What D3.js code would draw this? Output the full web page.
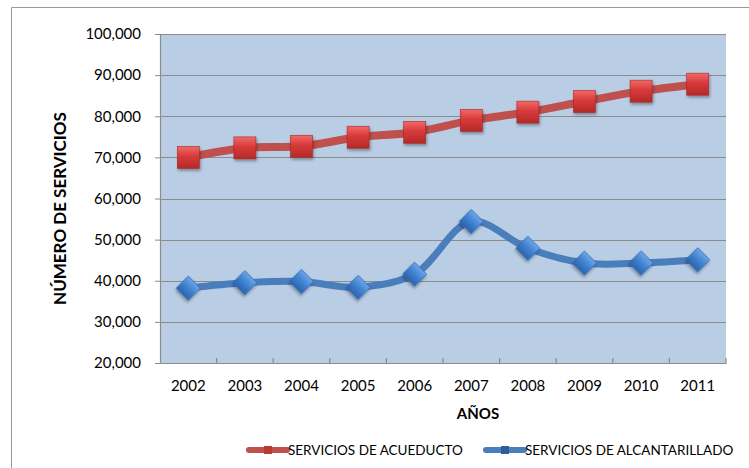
<!DOCTYPE html>
<html lang="es">
<head>
<meta charset="UTF-8">
<title>Servicios de acueducto y alcantarillado</title>
<script src="https://d3js.org/d3.v7.min.js"></script>
<style>
  body { margin: 0; background: #fff; }
  text { font-family: Lato, "Open Sans", sans-serif; fill: #000; }
</style>
</head>
<body>
<svg width="749" height="468"></svg>
<script>
// data
const years = ["2002", "2003", "2004", "2005", "2006", "2007", "2008", "2009", "2010", "2011"];
const acueducto = [70000, 72300, 72700, 74900, 76100, 79000, 81000, 83600, 86100, 87800];
const alcantarillado = [38200, 39500, 39800, 38400, 41600, 54400, 47900, 44300, 44300, 45100];
const yTicks = [20000, 30000, 40000, 50000, 60000, 70000, 80000, 90000, 100000];

const svg = d3.select("svg");
const plotL = 160, plotR = 726, plotT = 34, plotB = 363;

const x = d3.scaleBand().domain(years).range([plotL, plotR]);
const y = d3.scaleLinear().domain([20000, 100000]).range([plotB, plotT]);
const fmt = d3.format(",");

// gradients and shadow
const defs = svg.append("defs");
const gRed = defs.append("linearGradient").attr("id", "gRed").attr("x1", 0).attr("y1", 0).attr("x2", 0).attr("y2", 1);
gRed.append("stop").attr("offset", "0%").attr("stop-color", "#f26a68");
gRed.append("stop").attr("offset", "45%").attr("stop-color", "#d8393a");
gRed.append("stop").attr("offset", "100%").attr("stop-color", "#b42a28");
const gBlue = defs.append("linearGradient").attr("id", "gBlue").attr("x1", 0).attr("y1", 0).attr("x2", 0).attr("y2", 1);
gBlue.append("stop").attr("offset", "0%").attr("stop-color", "#6aa6ea");
gBlue.append("stop").attr("offset", "50%").attr("stop-color", "#3f82d0");
gBlue.append("stop").attr("offset", "100%").attr("stop-color", "#2d63ad");
const shadow = defs.append("filter").attr("id", "shadow").attr("x", "-50%").attr("y", "-50%").attr("width", "200%").attr("height", "200%");
shadow.append("feDropShadow").attr("dx", 1).attr("dy", 2).attr("stdDeviation", 1.5).attr("flood-color", "#000").attr("flood-opacity", 0.35);

// outer frame
svg.append("path").attr("d", "M11.5,468 V7.5 H749").attr("fill", "none").attr("stroke", "#9a9a9a").attr("stroke-width", 1);

// plot area
svg.append("rect").attr("x", plotL).attr("y", plotT).attr("width", plotR - plotL).attr("height", plotB - plotT).attr("fill", "#b9cde5");

// grid lines
svg.append("g").selectAll("line").data(yTicks.slice(1)).join("line")
  .attr("x1", plotL).attr("x2", plotR)
  .attr("y1", d => Math.round(y(d)) + 0.5).attr("y2", d => Math.round(y(d)) + 0.5)
  .attr("stroke", "#8c8c8c").attr("stroke-width", 1.2);

// y axis
const yAxis = svg.append("g").attr("transform", `translate(${plotL},0)`)
  .call(d3.axisLeft(y).tickValues(yTicks).tickFormat(fmt).tickSize(5).tickPadding(14));
yAxis.select(".domain").attr("stroke", "#8c8c8c").attr("stroke-width", 1.2);
yAxis.selectAll(".tick line").attr("stroke", "#8c8c8c");
yAxis.selectAll(".tick text").style("font-size", "15px").style("font-family", "Lato, sans-serif");

// x axis
const xAxis = svg.append("g").attr("transform", `translate(0,${plotB})`)
  .call(d3.axisBottom(x).tickSize(0).tickPadding(17));
xAxis.select(".domain").attr("stroke", "#8c8c8c").attr("stroke-width", 1.2);
xAxis.selectAll(".tick text").style("font-size", "15px").style("font-family", "Lato, sans-serif");
svg.append("g").selectAll("line").data(years).join("line")
  .attr("x1", d => x(d) + x.bandwidth()).attr("x2", d => x(d) + x.bandwidth())
  .attr("y1", plotB - 5).attr("y2", plotB)
  .attr("stroke", "#8c8c8c").attr("stroke-width", 1.2);

// axis titles
svg.append("text").attr("x", 478).attr("y", 419).attr("text-anchor", "middle")
  .style("font-size", "15px").style("font-weight", "bold").text("AÑOS");
svg.append("text").attr("transform", "translate(66,208.5) rotate(-90)").attr("text-anchor", "middle")
  .style("font-size", "17px").style("font-weight", "bold").text("NÚMERO DE SERVICIOS");

// lines
const cx = d => x(d) + x.bandwidth() / 2;
const line = d3.line().x((d, i) => cx(years[i])).y(d => y(d)).curve(d3.curveCatmullRom.alpha(0.5));

svg.append("path").datum(acueducto).attr("d", line)
  .attr("fill", "none").attr("stroke", "#c0504d").attr("stroke-width", 8).attr("stroke-linejoin", "round");
svg.append("path").datum(alcantarillado).attr("d", line)
  .attr("fill", "none").attr("stroke", "#4a7ebb").attr("stroke-width", 7).attr("stroke-linejoin", "round");

// markers
svg.append("g").selectAll("rect").data(acueducto).join("rect")
  .attr("x", (d, i) => cx(years[i]) - 11).attr("y", d => y(d) - 11)
  .attr("width", 22).attr("height", 22)
  .attr("fill", "url(#gRed)").attr("stroke", "#a52a28").attr("stroke-width", 0.6)
  .attr("filter", "url(#shadow)");

svg.append("g").selectAll("path").data(alcantarillado).join("path")
  .attr("d", d3.symbol().type(d3.symbolSquare).size(17 * 17))
  .attr("transform", (d, i) => `translate(${cx(years[i])},${y(d)}) rotate(45)`)
  .attr("fill", "url(#gBlue)").attr("stroke", "#2f67ae").attr("stroke-width", 0.6)
  .attr("filter", "url(#shadow)");

// legend
const legend = [
  { name: "SERVICIOS DE ACUEDUCTO", color: "#c0504d", mark: "#b83a37", x0: 249 },
  { name: "SERVICIOS DE ALCANTARILLADO", color: "#4a7ebb", mark: "#2f5e9a", x0: 486 }
];
const lg = svg.append("g").selectAll("g").data(legend).join("g")
  .attr("transform", d => `translate(${d.x0},450)`);
lg.append("line").attr("x1", 0).attr("x2", 38).attr("y1", 0).attr("y2", 0)
  .attr("stroke", d => d.color).attr("stroke-width", 6).attr("stroke-linecap", "round");
lg.append("rect").attr("x", 15).attr("y", -4).attr("width", 8).attr("height", 8).attr("fill", d => d.mark);
lg.append("text").attr("x", 39).attr("y", 5).style("font-size", "13.5px").text(d => d.name);
</script>
</body>
</html>
